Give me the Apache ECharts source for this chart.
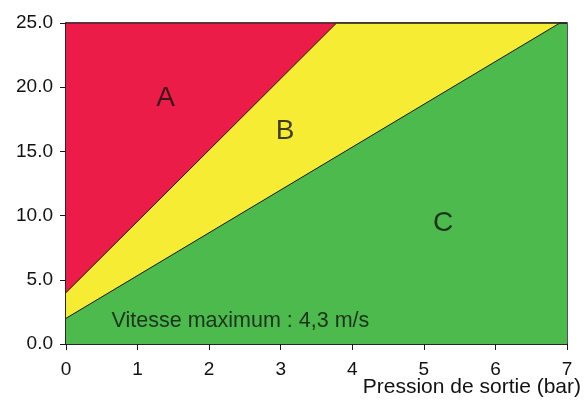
<!DOCTYPE html>
<html>
<head>
<meta charset="utf-8">
<script src="https://cdn.jsdelivr.net/npm/echarts@6/dist/echarts.min.js"></script>
<style>
  html, body { margin: 0; padding: 0; background: #fff; }
  #chart { width: 585px; height: 401px; }
</style>
</head>
<body>
<div id="chart"></div>
<script>
// zone boundaries (pression en bar, debit)
const zoneTop = [[0, 25], [7, 25]];
const lineAB = [[0, 4], [3.78, 25], [7, 25]];
const lineBC = [[0, 2], [6.9, 25], [7, 25]];
const zoneLabels = [
  { name: 'A', value: [1.39, 19.15] },
  { name: 'B', value: [3.06, 16.6] },
  { name: 'C', value: [5.27, 9.4] }
];
const noteText = 'Vitesse maximum : 4,3 m/s';
const notePos = [0.63, 1.8];
const xName = 'Pression de sortie (bar)';

const font = 'Liberation Sans, Arial, sans-serif';
const myChart = echarts.init(document.getElementById('chart'));

function areaSeries(data, color) {
  return {
    type: 'line',
    data: data,
    symbol: 'none',
    silent: true,
    lineStyle: { color: '#1a1a1a', width: 1 },
    areaStyle: { color: color, opacity: 1 }
  };
}

let option = {
  animation: false,
  grid: {
    left: 66, right: 18, top: 23, bottom: 57,
    show: true, borderColor: '#1a1a1a', borderWidth: 1.5
  },
  xAxis: {
    type: 'value',
    min: 0, max: 7, interval: 1,
    axisLine: { show: true, lineStyle: { color: '#1a1a1a', width: 1.5 } },
    axisTick: { show: true, length: 6, inside: false, lineStyle: { color: '#1a1a1a' } },
    axisLabel: { color: '#111', fontSize: 19, fontFamily: font, margin: 16 },
    splitLine: { show: false }
  },
  yAxis: {
    type: 'value',
    min: 0, max: 25, interval: 5,
    axisLine: { show: true, lineStyle: { color: '#1a1a1a', width: 1.5 } },
    axisTick: { show: true, length: 6, lineStyle: { color: '#1a1a1a' } },
    axisLabel: {
      color: '#111', fontSize: 19, fontFamily: font, margin: 13,
      formatter: v => v.toFixed(1)
    },
    splitLine: { show: false }
  },
  series: [
    areaSeries(zoneTop, '#ec1c48'),
    areaSeries(lineAB, '#f6ec34'),
    areaSeries(lineBC, '#4cba4c'),
    {
      type: 'scatter',
      symbolSize: 1,
      silent: true,
      z: 5,
      itemStyle: { color: 'rgba(0,0,0,0)' },
      data: zoneLabels,
      label: {
        show: true, position: 'inside', formatter: '{b}',
        color: '#111', fontSize: 28, fontFamily: font
      }
    },
    {
      type: 'scatter',
      symbolSize: 1,
      silent: true,
      z: 5,
      itemStyle: { color: 'rgba(0,0,0,0)' },
      data: [{ name: noteText, value: notePos }],
      label: {
        show: true, position: 'right', distance: 0, formatter: '{b}',
        color: '#111', fontSize: 21.5, fontFamily: font
      }
    }
  ],
  graphic: [{
    type: 'text',
    right: 4, top: 377,
    style: { text: xName, fill: '#111', fontSize: 21, fontFamily: font }
  }]
};
myChart.setOption(option);
</script>
</body>
</html>
